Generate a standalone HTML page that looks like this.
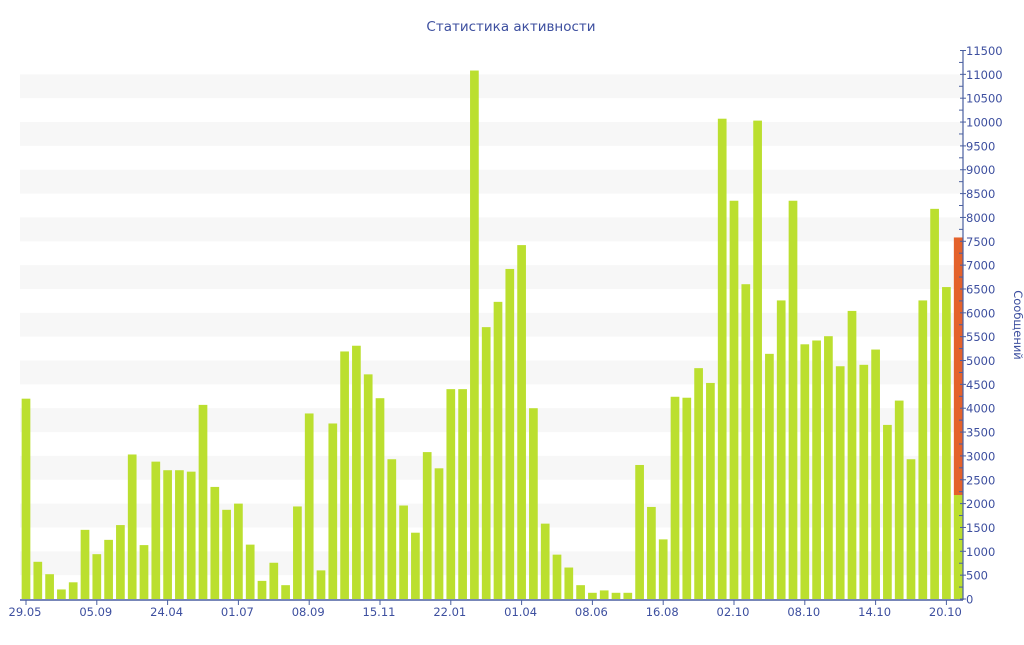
<!DOCTYPE html>
<html><head><meta charset="utf-8"><style>
body{margin:0;background:#fff;font-family:"Liberation Sans","DejaVu Sans",sans-serif}
svg text{font-family:"DejaVu Sans","Liberation Sans",sans-serif}
</style></head><body>
<svg id="c" width="1024" height="640" xmlns="http://www.w3.org/2000/svg">
<text x="511" y="31" text-anchor="middle" font-size="13.5" fill="#3d4f9f">Статистика активности</text>
<text transform="translate(1014,325) rotate(90)" text-anchor="middle" font-size="11.5" fill="#3d4f9f">Сообщений</text>
<g id="bands"></g><g id="bars"></g><g id="axes"></g>
</svg>
<script>
const values=[4200,780,520,200,350,1450,940,1240,1550,3030,1130,2880,2700,2700,2670,4070,2350,1870,2000,1140,380,760,290,1940,3890,600,3680,5190,5310,4710,4210,2930,1960,1390,3080,2740,4400,4400,11080,5700,6230,6920,7420,4000,1580,930,660,290,130,180,130,130,2810,1930,1250,4240,4220,4840,4530,10070,8350,6600,10030,5140,6260,8350,5340,5420,5510,4880,6040,4910,5230,3650,4160,2930,6260,8180,6540,7580];
const highlightBase=[2180];
const xLabels=["29.05","05.09","24.04","01.07","08.09","15.11","22.01","01.04","08.06","16.08","02.10","08.10","14.10","20.10"];
const yMax=11500;
const NS="http://www.w3.org/2000/svg";
const y0=599,yTop=50.5,x0=26,step=11.8,bw=8.7,axisX=963;
const Y=v=>y0-(v/yMax)*(y0-yTop);
const X=i=>x0+i*step;
function mk(t,a,p){const e=document.createElementNS(NS,t);for(const k in a)e.setAttribute(k,a[k]);p.appendChild(e);return e;}
const bands=document.getElementById('bands'),bars=document.getElementById('bars'),axes=document.getElementById('axes');
for(let v=500;v<yMax;v+=1000){const r=mk('rect',{x:20,y:Y(v+500),width:axisX-20,height:Y(v)-Y(v+500),fill:'#f7f7f7'},bands);

}
values.forEach((v,i)=>{
 const last=i===values.length-1;
 if(last){const b=highlightBase[0];
  const r1=mk('rect',{x:X(i)-bw/2,y:Y(b),width:bw,height:Y(0)-Y(b),fill:'#bbdf2f'},bars);
  
  
  const r2=mk('rect',{x:X(i)-bw/2,y:Y(v),width:bw,height:Y(b)-Y(v),fill:'#e4622b'},bars);
  
  
 }else{const r=mk('rect',{x:X(i)-bw/2,y:Y(v),width:bw,height:Y(0)-Y(v),fill:'#bbdf2f'},bars);
  
  }
});
const xl=mk('line',{x1:20,y1:y0+1,x2:axisX,y2:y0+1,stroke:'#4a5fa0','stroke-width':1.5},axes);


xLabels.forEach((l,j)=>{const i=j*6;
 mk('line',{x1:X(i),y1:y0+1,x2:X(i),y2:y0+6,stroke:'#4a5fa0'},axes);
 const t=mk('text',{x:X(i)-1,y:y0+17,'text-anchor':'middle','font-size':11.5,fill:'#3d4f9f'},axes);t.textContent=l;
 
 });
const yl=mk('line',{x1:axisX,y1:Y(yMax),x2:axisX,y2:y0+1,stroke:'#4a5fa0','stroke-width':1.2},axes);


for(let v=0;v<=yMax;v+=250){const major=v%500===0;
 mk('line',{x1:axisX-(major?3:4),y1:Y(v),x2:axisX+(major?3:0),y2:Y(v),stroke:'#4a5fa0'},axes);
 if(major){const t=mk('text',{x:axisX+3,y:Y(v)+4.5,'font-size':11.5,fill:'#3d4f9f'},axes);t.textContent=v;
 
 }}
</script>
</body></html>
